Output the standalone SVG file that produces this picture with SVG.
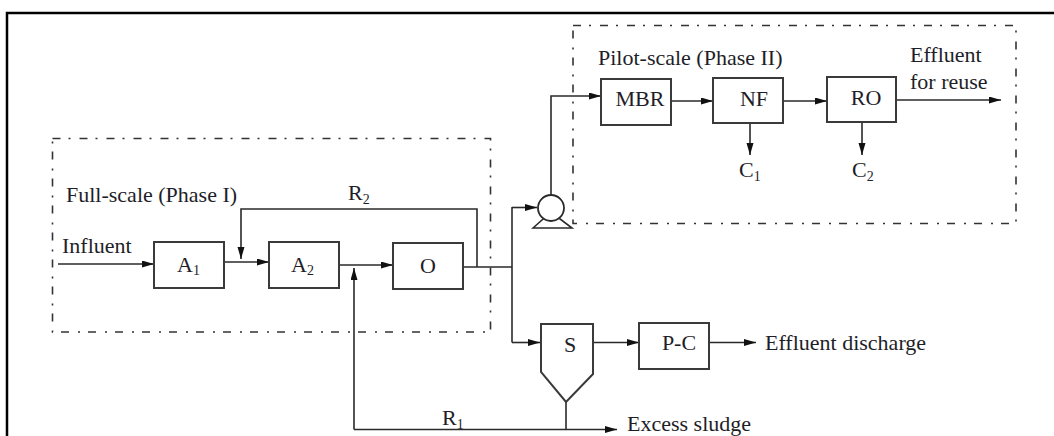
<svg xmlns="http://www.w3.org/2000/svg" width="1054" height="436" viewBox="0 0 1054 436">
<style>
.t{font-family:"Liberation Serif","Times New Roman",serif;font-size:22px;fill:#1e1e28}
.s{font-size:14px}
.box{fill:#fff;stroke:#3a3a3a;stroke-width:2}
.ln{fill:none;stroke:#2a2a2a;stroke-width:1.6}
.dash{fill:none;stroke:#333;stroke-width:1.6;stroke-dasharray:8 8 2 9}
</style>
<defs>
<marker id="ah" markerUnits="userSpaceOnUse" markerWidth="13" markerHeight="8" refX="12" refY="3.5" orient="auto">
<path d="M0,0 L12,3.5 L0,7 Z" fill="#111"/>
</marker>
</defs>
<rect width="1054" height="436" fill="#fff"/>
<path d="M7 436 V13 H1054" fill="none" stroke="#000" stroke-width="2.5"/>
<g id="phase1">
<rect class="dash" x="52.5" y="138.5" width="438" height="193.5"/>
<text class="t" x="66" y="202">Full-scale (Phase I)</text>
</g>
<g id="phase2">
<rect class="dash" x="573" y="25.5" width="443" height="198"/>
<text class="t" x="598" y="65">Pilot-scale (Phase II)</text>
</g>
<g id="connectors">
<path class="ln" d="M58 264 H154" marker-end="url(#ah)"/>
<path class="ln" d="M224 262 H269" marker-end="url(#ah)"/>
<path class="ln" d="M339 265 H393" marker-end="url(#ah)"/>
<path class="ln" d="M463 267 H512"/>
<path class="ln" d="M477 267 V209 H241 V259" marker-end="url(#ah)"/>
<path class="ln" d="M354 429.5 V268" marker-end="url(#ah)"/>
<path class="ln" d="M354 429.5 H617" marker-end="url(#ah)"/>
<path class="ln" d="M566 402 V429.5"/>
<path class="ln" d="M512 207 V342.5"/>
<path class="ln" d="M512 207.5 H537" marker-end="url(#ah)"/>
<path class="ln" d="M512 342.5 H540" marker-end="url(#ah)"/>
<path class="ln" d="M551 195 V96 H601" marker-end="url(#ah)"/>
<path class="ln" d="M671 101 H713" marker-end="url(#ah)"/>
<path class="ln" d="M783 101 H827" marker-end="url(#ah)"/>
<path class="ln" d="M896 100 H1001" marker-end="url(#ah)"/>
<path class="ln" d="M750 123 V155" marker-end="url(#ah)"/>
<path class="ln" d="M862 123 V155" marker-end="url(#ah)"/>
<path class="ln" d="M593 342.5 H639" marker-end="url(#ah)"/>
<path class="ln" d="M709 342.5 H756" marker-end="url(#ah)"/>
</g>
<g id="labels">
<text class="t" x="62" y="253">Influent</text>
<text class="t" x="348" y="200">R<tspan class="s" dy="4">2</tspan></text>
<text class="t" x="442" y="425">R<tspan class="s" dy="4">1</tspan></text>
<text class="t" x="739" y="177">C<tspan class="s" dy="4">1</tspan></text>
<text class="t" x="852" y="177">C<tspan class="s" dy="4">2</tspan></text>
<text class="t" x="910" y="62">Effluent</text>
<text class="t" x="910" y="89">for reuse</text>
<text class="t" x="765" y="350">Effluent discharge</text>
<text class="t" x="627" y="431">Excess sludge</text>
</g>
<g id="A1">
<rect class="box" x="154" y="242" width="70" height="46"/>
<text class="t" x="177" y="272">A<tspan class="s" dy="3">1</tspan></text>
</g>
<g id="A2">
<rect class="box" x="269" y="242" width="70" height="46"/>
<text class="t" x="291" y="272">A<tspan class="s" dy="3">2</tspan></text>
</g>
<g id="O">
<rect class="box" x="393" y="243" width="70" height="46"/>
<text class="t" x="428" y="273" text-anchor="middle">O</text>
</g>
<g id="pump">
<polygon points="533,228 551,212 572,228" fill="#fff" stroke="#2a2a2a" stroke-width="1.6"/>
<circle cx="551" cy="208" r="13" fill="#fff" stroke="#2a2a2a" stroke-width="1.8"/>
</g>
<g id="MBR">
<rect class="box" x="601" y="79" width="70" height="46"/>
<text class="t" x="640" y="106" text-anchor="middle">MBR</text>
</g>
<g id="NF">
<rect class="box" x="713" y="78" width="70" height="45"/>
<text class="t" x="754" y="106" text-anchor="middle">NF</text>
</g>
<g id="RO">
<rect class="box" x="827" y="77" width="69" height="45"/>
<text class="t" x="866" y="105" text-anchor="middle">RO</text>
</g>
<g id="S">
<path class="box" d="M541 324 H593 V374 L566 402 L541 372 Z"/>
<text class="t" x="570" y="352" text-anchor="middle">S</text>
</g>
<g id="PC">
<rect class="box" x="639" y="323" width="70" height="46"/>
<text class="t" x="679" y="350" text-anchor="middle">P-C</text>
</g>
</svg>
